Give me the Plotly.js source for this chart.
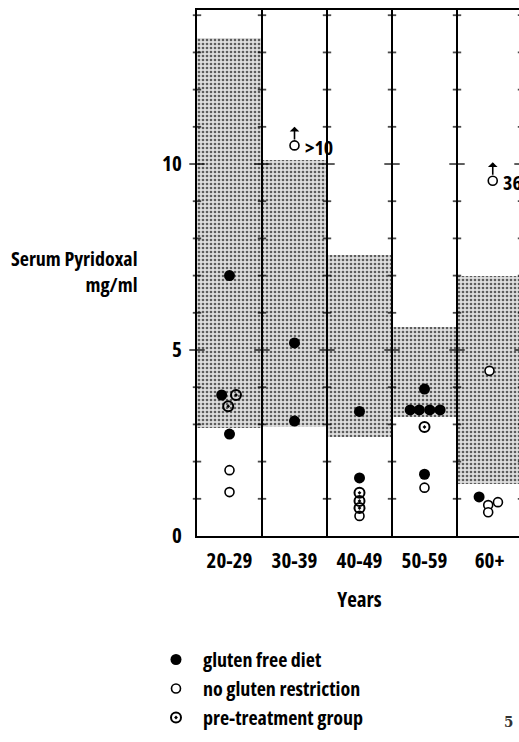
<!DOCTYPE html>
<html>
<head>
<meta charset="utf-8">
<script src="https://cdn.plot.ly/plotly-3.0.1.min.js"></script>
<style>
  html, body { margin: 0; padding: 0; overflow: hidden; background: #fff; }
  #chart { width: 560px; height: 742px; }
  text { font-stretch: condensed; }
</style>
</head>
<body>
<div id="chart"></div>
<script>
// ---- data ----
const ageGroups = ['20-29', '30-39', '40-49', '50-59', '60+'];
const refLow  = [2.9, 2.93, 2.65, 3.2, 1.4];
const refHigh = [13.4, 10.1, 7.55, 5.62, 7.0];

// gluten free diet (filled)
const gfdGroup = ['20-29','20-29','20-29','30-39','30-39','40-49','40-49','50-59','50-59','50-59','50-59','50-59','50-59','60+'];
const gfdValue = [7.0, 3.79, 2.74, 5.19, 3.09, 3.35, 1.56, 3.95, 3.39, 3.39, 3.39, 3.39, 1.66, 1.05];
const gfdDodge = [0, -0.12, 0, 0, 0, 0, 0, 0, -0.22, -0.08, 0.08, 0.24, 0, -0.16];

// no gluten restriction (open)
const ngrGroup = ['20-29','20-29','40-49','50-59','60+','60+','60+','60+'];
const ngrValue = [1.77, 1.18, 0.54, 1.3, 4.44, 0.91, 0.83, 0.64];
const ngrDodge = [0, 0, 0, 0, 0, 0.13, -0.02, -0.02];

// off-scale open points (drawn with arrow and label)
const offGroup = ['30-39', '60+'];
const offValue = [10.5, 9.55];
const offLabel = ['>10', '36'];
const offDodge = [0, 0.05];

// pre-treatment group (ring with dot)
const ptGroup = ['20-29','20-29','40-49','40-49','40-49','50-59'];
const ptValue = [3.79, 3.49, 1.16, 0.94, 0.75, 2.93];
const ptDodge = [0.1, -0.02, 0, 0, 0, 0];

const yTop = 14.14;
const majorTicks = [0, 5, 10];

// ---- helpers ----
const FONT = '"Open Sans", Roboto, sans-serif';
const col = g => ageGroups.indexOf(g) + 0.5;
const xs = (groups, dodge) => groups.map((g, i) => col(g) + dodge[i]);

// tick marks crossing every column line
const tickX = [], tickY = [], tickS = [];
for (let b = 0; b <= ageGroups.length; b++) {
  for (let v = 1; v < yTop; v++) {
    tickX.push(b); tickY.push(v);
    tickS.push(majorTicks.includes(v) ? 11 : 6);
  }
}

const traces = [
  {
    type: 'bar',
    x: ageGroups.map((g) => col(g)),
    base: refLow,
    y: refHigh.map((h, i) => h - refLow[i]),
    width: 1,
    marker: {
      color: '#d4d4d4',
      line: { width: 0 },
      pattern: { shape: '.', fgcolor: '#5c5c5c', bgcolor: '#dedede', size: 4, solidity: 0.35 }
    },
    showlegend: false, hoverinfo: 'skip'
  },
  {
    type: 'scatter', mode: 'markers',
    x: tickX, y: tickY,
    marker: { symbol: 'line-ew', size: tickS, color: '#000', line: { color: '#000', width: 1.8 } },
    showlegend: false, hoverinfo: 'skip', cliponaxis: false
  },
  {
    type: 'scatter', mode: 'markers', name: 'gluten free diet',
    x: xs(gfdGroup, gfdDodge), y: gfdValue,
    marker: { symbol: 'circle', size: 11, color: '#000' }
  },
  {
    type: 'scatter', mode: 'markers', name: 'no gluten restriction',
    x: xs(ngrGroup, ngrDodge).concat(xs(offGroup, offDodge)), y: ngrValue.concat(offValue),
    marker: { symbol: 'circle', size: 9, color: '#fff', line: { color: '#000', width: 1.6 } }
  },
  {
    type: 'scatter', mode: 'markers', name: 'pre-treatment group',
    x: xs(ptGroup, ptDodge), y: ptValue,
    marker: { symbol: 'circle-open-dot', size: 10, color: '#000', line: { color: '#000', width: 2 } }
  }
];

const shapes = [];
for (let b = 1; b <= ageGroups.length; b++) {
  shapes.push({ type: 'line', xref: 'x', yref: 'paper', x0: b, x1: b, y0: 0, y1: 1,
                line: { color: '#000', width: 2 }, layer: 'above' });
}

const annotations = [
  {
    xref: 'paper', yref: 'paper', x: -0.18, y: 0.502, xanchor: 'right', yanchor: 'middle',
    align: 'right', showarrow: false,
    text: 'Serum Pyridoxal<br>mg/ml',
    font: { family: FONT, size: 20, color: '#000', weight: 'bold' }
  },
  {
    xref: 'paper', yref: 'paper', x: 0.957, y: -0.354, xanchor: 'center', yanchor: 'middle',
    showarrow: false, text: '5',
    font: { family: 'DejaVu Serif, serif', size: 15, color: '#333' }
  }
];
offGroup.forEach((g, i) => {
  const x = col(g) + offDodge[i];
  annotations.push({
    xref: 'x', yref: 'y', axref: 'x', ayref: 'y',
    x: x, y: offValue[i] + 0.5, ax: x, ay: offValue[i] + 0.12,
    showarrow: true, arrowhead: 1, arrowsize: 1, arrowwidth: 1.6, arrowcolor: '#000', text: ''
  });
  annotations.push({
    xref: 'x', yref: 'y', x: x, y: offValue[i], xshift: 8, yshift: -2,
    xanchor: 'left', yanchor: 'middle', showarrow: false, text: offLabel[i],
    font: { family: FONT, size: 20, color: '#000', weight: 'bold' }
  });
});

const layout = {
  width: 560, height: 742,
  margin: { l: 197, r: 38, t: 10, b: 206, autoexpand: false },
  paper_bgcolor: '#fff', plot_bgcolor: '#fff',
  barmode: 'overlay', bargap: 0,
  font: { family: FONT, size: 20, color: '#000', weight: 'bold' },
  xaxis: {
    range: [0, ageGroups.length],
    tickvals: ageGroups.map(g => col(g)), ticktext: ageGroups,
    ticks: '', showgrid: false, zeroline: false,
    showline: true, mirror: true, linecolor: '#000', linewidth: 2,
    tickfont: { family: FONT, size: 21, color: '#000', weight: 'bold' },
    ticklabelstandoff: 5,
    title: { text: 'Years', font: { family: FONT, size: 21, color: '#000', weight: 'bold' }, standoff: 19 }
  },
  yaxis: {
    range: [0, yTop],
    tickvals: majorTicks, ticktext: majorTicks.map(String),
    ticks: '', showgrid: false, zeroline: false,
    showline: true, mirror: true, linecolor: '#000', linewidth: 2,
    tickfont: { family: FONT, size: 21, color: '#000', weight: 'bold' },
    ticklabelstandoff: 9
  },
  showlegend: true,
  legend: {
    x: -0.1477, y: -0.1977, xanchor: 'left', yanchor: 'top',
    bgcolor: 'rgba(0,0,0,0)', tracegroupgap: 0, itemwidth: 44,
    font: { family: FONT, size: 20, color: '#000', weight: 'bold' }
  },
  shapes: shapes,
  annotations: annotations
};

Plotly.newPlot('chart', traces, layout, { staticPlot: true, displayModeBar: false });
</script>
</body>
</html>
